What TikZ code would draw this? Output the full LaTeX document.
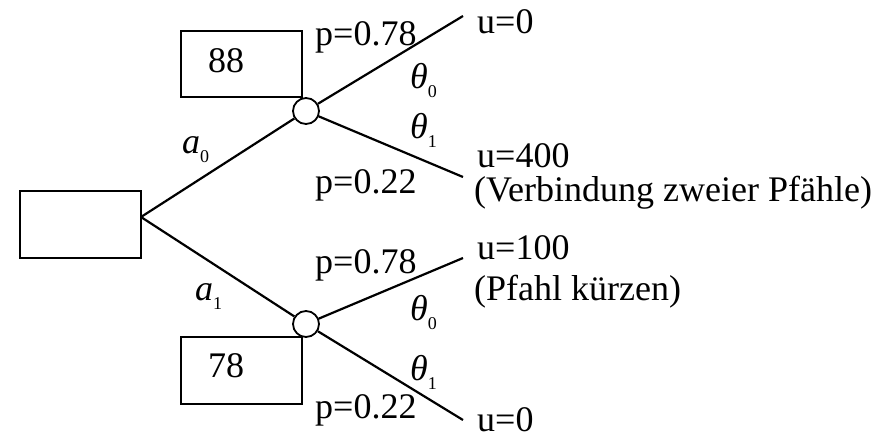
\documentclass[tikz,border=0pt]{standalone}
\usepackage{fontspec}
\setmainfont{Liberation Serif}
\newcommand\mysub[1]{\raisebox{-9pt}{\fontsize{18}{18}\selectfont #1}}
\begin{document}
\begin{tikzpicture}[x=1pt,y=-1pt,
  box/.style={draw, line width=1.8pt, inner sep=0},
  edge/.style={line width=2.2pt},
  chance/.style={circle, draw, line width=1.8pt, minimum size=26pt, inner sep=0, fill=white},
  lbl/.style={anchor=base west, inner sep=0, font=\fontsize{36}{40}\selectfont}]
\useasboundingbox (0,0) rectangle (883,434);
% boxes
\node[box, minimum width=121pt, minimum height=67pt] (root) at (80.5,224.5) {};
\node[box, minimum width=121pt, minimum height=66pt] (b88) at (241.5,64) {};
\node[box, minimum width=121pt, minimum height=67pt] (b78) at (241.5,370.5) {};
\node[lbl] (t88) at (208,72) {88};
\node[lbl] (t78) at (208,377) {78};
% chance nodes
\node[chance] (c0) at (306,111) {};
\node[chance] (c1) at (306,324) {};
% coordinates
\coordinate (rv) at (141,217);
\coordinate (e00) at (463,16);
\coordinate (e01) at (463,177);
\coordinate (e10) at (463,258);
\coordinate (e11) at (463,420);
% edges
\draw[edge] (rv) -- (c0);
\draw[edge] (rv) -- (c1);
\draw[edge] (c0) -- (e00);
\draw[edge] (c0) -- (e01);
\draw[edge] (c1) -- (e10);
\draw[edge] (c1) -- (e11);
% outcome labels
\node[lbl] (u00) at (477,33) {u=0};
\node[lbl] (u01) at (477,167) {u=400};
\node[lbl] (v01) at (474,201) {(Verbindung zweier Pfähle)};
\node[lbl] (u10) at (477,259) {u=100};
\node[lbl] (v10) at (474,300) {(Pfahl kürzen)};
\node[lbl] (u11) at (477,431) {u=0};
% probabilities
\node[lbl] (p00) at (315,45) {p=0.78};
\node[lbl] (p01) at (315,193) {p=0.22};
\node[lbl] (p10) at (315,273) {p=0.78};
\node[lbl] (p11) at (315,418) {p=0.22};
% states
\node[lbl] (th00) at (410,88) {\textit{θ}\mysub{0}};
\node[lbl] (th01) at (410,138) {\textit{θ}\mysub{1}};
\node[lbl] (th10) at (410,320) {\textit{θ}\mysub{0}};
\node[lbl] (th11) at (410,380) {\textit{θ}\mysub{1}};
% actions
\node[lbl] (a0) at (182,153) {\textit{a}\mysub{0}};
\node[lbl] (a1) at (195,300) {\textit{a}\mysub{1}};
\end{tikzpicture}
\end{document}
